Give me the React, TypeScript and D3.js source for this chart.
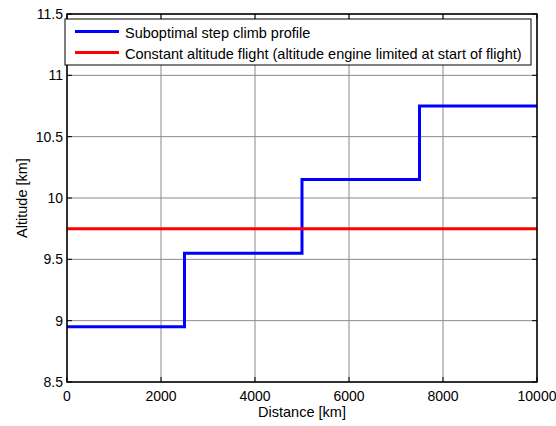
import React from "react";
import * as d3 from "d3";

const stepDistances = [0, 2500, 5000, 7500, 10000];
const stepAltitudes = [8.95, 9.55, 10.15, 10.75, 10.75];
const constantDistances = [0, 10000];
const constantAltitudes = [9.75, 9.75];
const xTicks = [0, 2000, 4000, 6000, 8000, 10000];
const yTicks = [8.5, 9, 9.5, 10, 10.5, 11, 11.5];
const seriesNames = [
  "Suboptimal step climb profile",
  "Constant altitude flight (altitude engine limited at start of flight)",
];
const seriesColors = ["#0000ff", "#ff0000"];

const W = 556;
const H = 426;
const L = 67, R = 537, T = 14, B = 382;
const FONT = "'Liberation Sans', Arial, sans-serif";

export default function App() {
  const x = d3.scaleLinear().domain([0, 10000]).range([L, R]);
  const y = d3.scaleLinear().domain([8.5, 11.5]).range([B, T]);

  const stepLine = d3
    .line<number>()
    .x((_, i) => x(stepDistances[i]))
    .y((_, i) => y(stepAltitudes[i]))
    .curve(d3.curveStepAfter);
  const flatLine = d3
    .line<number>()
    .x((_, i) => x(constantDistances[i]))
    .y((_, i) => y(constantAltitudes[i]));

  const tick = 5;

  return (
    <svg
      width={W}
      height={H}
      style={{ position: "absolute", left: 0, top: 0, background: "#fff" }}
      fontFamily={FONT}
    >
      <rect x={0} y={0} width={W} height={H} fill="#fff" />
      {/* grid */}
      {xTicks.map((t) => (
        <line key={"gx" + t} x1={x(t)} x2={x(t)} y1={T} y2={B} stroke="#8a8a8a" strokeWidth={1} />
      ))}
      {yTicks.map((t) => (
        <line key={"gy" + t} x1={L} x2={R} y1={y(t)} y2={y(t)} stroke="#8a8a8a" strokeWidth={1} />
      ))}
      {/* ticks */}
      {xTicks.map((t) => (
        <g key={"tx" + t}>
          <line x1={x(t)} x2={x(t)} y1={B} y2={B - tick} stroke="#000" />
          <line x1={x(t)} x2={x(t)} y1={T} y2={T + tick} stroke="#000" />
          <text x={x(t)} y={B + 18.5} textAnchor="middle" fontSize={14} fill="#000">
            {t}
          </text>
        </g>
      ))}
      {yTicks.map((t) => (
        <g key={"ty" + t}>
          <line x1={L} x2={L + tick} y1={y(t)} y2={y(t)} stroke="#000" />
          <line x1={R} x2={R - tick} y1={y(t)} y2={y(t)} stroke="#000" />
          <text x={L - 4} y={y(t) + 5} textAnchor="end" fontSize={14} fill="#000">
            {t}
          </text>
        </g>
      ))}
      {/* series */}
      <path d={stepLine(stepDistances) ?? ""} fill="none" stroke={seriesColors[0]} strokeWidth={3} />
      <path d={flatLine(constantDistances) ?? ""} fill="none" stroke={seriesColors[1]} strokeWidth={3} />
      {/* axes box */}
      <rect x={L} y={T} width={R - L} height={B - T} fill="none" stroke="#000" strokeWidth={1.5} />
      {/* legend */}
      <rect x={65} y={19} width={466} height={46} fill="#fff" stroke="#000" strokeWidth={1} />
      {seriesNames.map((name, i) => (
        <g key={name}>
          <line x1={75} x2={119} y1={31.5 + i * 21} y2={31.5 + i * 21} stroke={seriesColors[i]} strokeWidth={3} />
          <text x={125} y={31.5 + i * 21 + 6} fontSize={14.5} fill="#000">
            {name}
          </text>
        </g>
      ))}
      {/* axis labels */}
      <text x={(L + R) / 2} y={417} textAnchor="middle" fontSize={14.5} fill="#000">
        Distance [km]
      </text>
      <text
        transform={`translate(27, ${(T + B) / 2}) rotate(-90)`}
        textAnchor="middle"
        fontSize={14.5}
        fill="#000"
      >
        Altitude [km]
      </text>
    </svg>
  );
}
